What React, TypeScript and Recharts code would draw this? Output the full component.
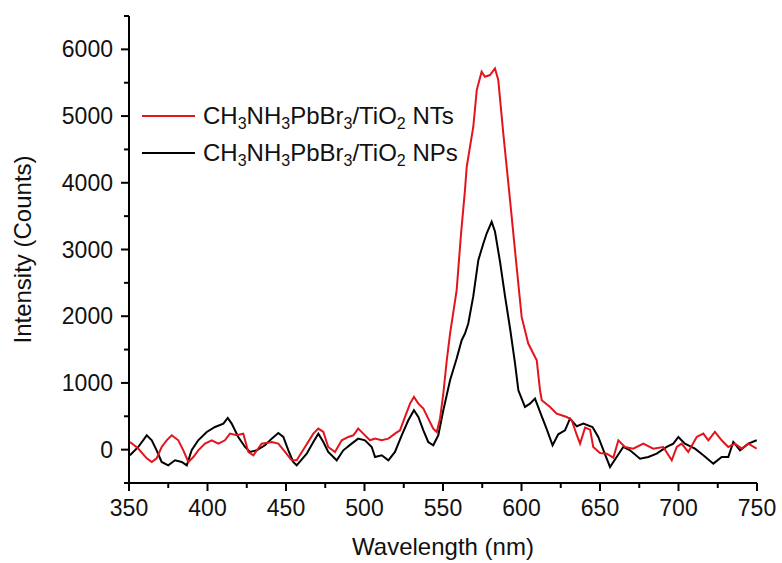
import React from "react";
import { LineChart, Line, XAxis, YAxis } from "recharts";

// wavelength (nm) / intensity (counts)
const ntsWavelength = [
  350.6, 355.7, 361.3, 364.5, 367.6, 370.8, 374.0, 377.2, 381.4, 384.6, 387.8, 391.0, 394.1, 398.4,
  402.7, 406.9, 411.1, 414.3, 418.6, 422.8, 426.0, 429.2, 434.5, 440.9, 445.1, 449.4, 453.6, 456.8,
  462.1, 467.4, 470.6, 473.8, 476.9, 481.2, 485.5, 489.7, 492.9, 496.0, 499.2, 503.5, 506.7, 511.0,
  515.2, 519.4, 522.6, 525.8, 529.0, 531.5, 534.3, 537.5, 540.6, 543.8, 546.0, 548.1, 550.2, 552.4,
  554.5, 558.7, 561.5, 564.0, 565.1, 569.3, 571.5, 574.6, 576.7, 579.9, 583.1, 585.2, 588.4, 592.7,
  596.9, 600.1, 604.3, 609.7, 611.8, 612.9, 618.2, 622.4, 628.8, 632.0, 635.2, 637.3, 640.5, 643.7,
  645.7, 650.0, 654.3, 658.5, 661.7, 665.9, 671.2, 677.6, 683.9, 690.3, 695.7, 698.9, 702.0, 706.2,
  711.6, 715.8, 719.0, 723.2, 727.5, 731.7, 736.0, 740.2, 744.5, 749.8,
];
const ntsIntensity = [
  115, 20, -130, -185, -130, 40, 140, 215, 140, -10, -185, -110, -10, 90,
  140, 90, 140, 240, 215, 240, -35, -85, 90, 115, 90, -35, -160, -160,
  40, 240, 315, 265, 40, -35, 140, 190, 215, 315, 240, 140, 165, 140,
  165, 240, 290, 490, 690, 790, 690, 615, 465, 315, 265, 465, 840, 1340,
  1740, 2390, 3240, 3890, 4240, 4840, 5390, 5665, 5590, 5615, 5715, 5540, 4740, 3740,
  2740, 1990, 1590, 1340, 890, 740, 640, 540, 490, 440, 220, 90, 330, 300,
  40, -50, -60, -120, 140, 40, 15, 90, 15, 40, -160, 40, 90, -35,
  190, 240, 140, 265, 140, 40, 90, 15, 90, 15,
];

const npsWavelength = [
  350.6, 355.9, 361.3, 364.5, 367.6, 370.8, 375.0, 379.3, 383.6, 386.8, 389.9, 394.1, 399.5, 404.8,
  410.1, 412.9, 415.4, 419.6, 423.9, 427.1, 431.3, 436.6, 440.9, 445.1, 448.3, 451.5, 454.6, 456.8,
  463.2, 467.4, 470.6, 473.8, 476.9, 482.3, 486.5, 491.8, 496.0, 500.3, 504.6, 506.7, 511.0, 515.2,
  519.4, 523.7, 527.9, 531.5, 534.3, 537.5, 540.6, 543.8, 547.0, 550.2, 554.5, 558.7, 561.9, 564.0,
  566.1, 569.3, 572.5, 575.7, 577.8, 581.0, 583.1, 586.3, 589.5, 592.7, 595.9, 598.0, 602.2, 605.4,
  608.6, 612.9, 616.0, 619.8, 623.4, 627.7, 630.9, 635.2, 639.4, 645.2, 648.9, 653.2, 656.4, 660.6,
  664.8, 669.1, 675.5, 680.8, 686.1, 692.5, 696.7, 699.9, 704.1, 710.5, 715.8, 722.2, 727.5, 731.7,
  734.9, 739.2, 744.5, 749.8,
];
const npsIntensity = [
  -85, 40, 215, 140, -10, -185, -235, -160, -185, -235, -10, 140, 265, 340,
  390, 475, 390, 190, 40, -35, -10, 65, 165, 250, 190, -10, -185, -235,
  -60, 115, 240, 115, -35, -160, -10, 90, 165, 140, 40, -110, -85, -160,
  -35, 215, 440, 590, 490, 290, 115, 65, 215, 590, 1040, 1365, 1640, 1740,
  1890, 2300, 2840, 3090, 3240, 3415, 3270, 2820, 2300, 1820, 1290, 890, 640, 690,
  765, 500, 310, 65, 230, 290, 465, 350, 390, 340, 190, -70, -260, -110,
  40, -10, -135, -110, -60, 40, 90, 190, 90, 15, -85, -210, -110, -110,
  115, -10, 90, 140,
];

const xTicks = [350, 375, 400, 425, 450, 475, 500, 525, 550, 575, 600, 625, 650, 675, 700, 725, 750];
const yTicks = [-500, 0, 500, 1000, 1500, 2000, 2500, 3000, 3500, 4000, 4500, 5000, 5500, 6000, 6500];

const ntsData = ntsWavelength.map((w, i) => ({ wavelength: w, intensity: ntsIntensity[i] }));
const npsData = npsWavelength.map((w, i) => ({ wavelength: w, intensity: npsIntensity[i] }));

const FONT = "'Liberation Sans', Arial, sans-serif";
const RED = "#e3141c";

const XTick = ({ x, y, payload }: any) => {
  const major = payload.value % 50 === 0;
  return (
    <g>
      <line x1={x} x2={x} y1={y} y2={y + (major ? 8 : 5)} stroke="#000" strokeWidth={2} />
      {major && (
        <text x={x} y={y + 33} textAnchor="middle" fontSize={23} fill="#111" fontFamily={FONT}>
          {payload.value}
        </text>
      )}
    </g>
  );
};

const YTick = ({ x, y, payload }: any) => {
  const major = payload.value % 1000 === 0;
  return (
    <g>
      <line x1={x} x2={x - (major ? 8 : 5)} y1={y} y2={y} stroke="#000" strokeWidth={2} />
      {major && (
        <text x={x - 16} y={y + 8} textAnchor="end" fontSize={23} fill="#111" fontFamily={FONT}>
          {payload.value}
        </text>
      )}
    </g>
  );
};

const subStyle: React.CSSProperties = { fontSize: 16, verticalAlign: "-5px", lineHeight: 0 };

const Formula = ({ suffix }: { suffix: string }) => (
  <span>
    CH<sub style={subStyle}>3</sub>NH<sub style={subStyle}>3</sub>PbBr<sub style={subStyle}>3</sub>/TiO
    <sub style={subStyle}>2</sub> {suffix}
  </span>
);

const legendRows = [
  { color: RED, suffix: "NTs", top: 102 },
  { color: "#000", suffix: "NPs", top: 139 },
];

export default function App() {
  return (
    <div style={{ position: "absolute", left: 0, top: 0, width: 782, height: 563, background: "#fff" }}>
      <LineChart width={782} height={563} margin={{ top: 16, right: 25, bottom: 0, left: 0 }}>
        <XAxis
          dataKey="wavelength"
          type="number"
          domain={[350, 750]}
          ticks={xTicks}
          interval={0}
          height={80}
          tickSize={0}
          tickMargin={0}
          tickLine={false}
          tick={<XTick />}
          axisLine={{ stroke: "#000", strokeWidth: 2 }}
          allowDataOverflow
          label={{
            value: "Wavelength (nm)",
            position: "insideBottom",
            offset: 8,
            fontSize: 24,
            fill: "#111",
            fontFamily: FONT,
          }}
        />
        <XAxis
          xAxisId="top"
          orientation="top"
          type="number"
          domain={[350, 750]}
          height={0}
          tick={false}
          tickLine={false}
          axisLine={{ stroke: "#000", strokeWidth: 2 }}
        />
        <YAxis
          type="number"
          domain={[-500, 6500]}
          ticks={yTicks}
          interval={0}
          width={129}
          tickSize={0}
          tickMargin={0}
          tickLine={false}
          tick={<YTick />}
          axisLine={{ stroke: "#000", strokeWidth: 2 }}
          allowDataOverflow
          label={{
            value: "Intensity (Counts)",
            angle: -90,
            position: "insideLeft",
            offset: 22,
            fontSize: 24,
            fill: "#111",
            fontFamily: FONT,
            style: { textAnchor: "middle" },
          }}
        />
        <YAxis
          yAxisId="right"
          orientation="right"
          type="number"
          domain={[-500, 6500]}
          width={0}
          tick={false}
          tickLine={false}
          axisLine={{ stroke: "#000", strokeWidth: 2 }}
        />
        <Line
          data={npsData}
          dataKey="intensity"
          type="linear"
          stroke="#000"
          strokeWidth={2}
          dot={false}
          isAnimationActive={false}
        />
        <Line
          data={ntsData}
          dataKey="intensity"
          type="linear"
          stroke={RED}
          strokeWidth={2}
          dot={false}
          isAnimationActive={false}
        />
      </LineChart>
      {legendRows.map((r) => (
        <div
          key={r.suffix}
          style={{
            position: "absolute",
            left: 142,
            top: r.top,
            display: "flex",
            alignItems: "center",
            fontFamily: FONT,
            fontSize: 24,
            color: "#111",
            whiteSpace: "nowrap",
            lineHeight: "27px",
          }}
        >
          <span style={{ display: "inline-block", width: 53, height: 2, background: r.color, marginRight: 8 }} />
          <Formula suffix={r.suffix} />
        </div>
      ))}
    </div>
  );
}
